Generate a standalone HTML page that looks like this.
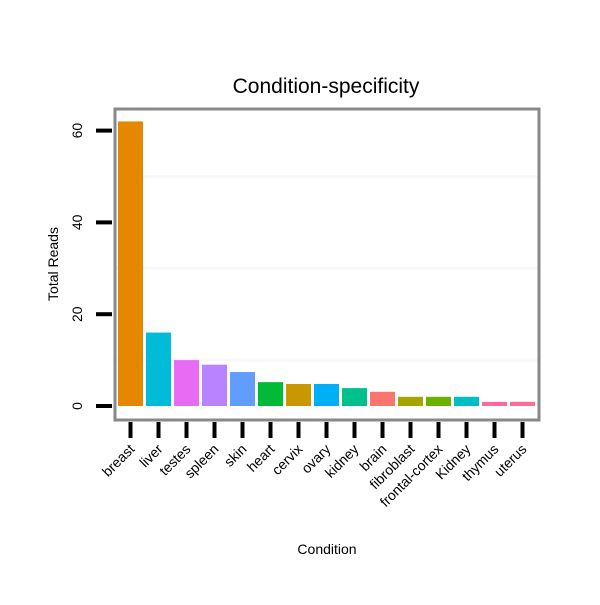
<!DOCTYPE html>
<html><head><meta charset="utf-8"><style>
body{margin:0;background:#fff;}
svg text{font-family:"Liberation Sans",sans-serif;}
</style></head><body>
<svg id="chart" width="600" height="600" viewBox="0 0 600 600">
<rect x="0" y="0" width="600" height="600" fill="#fff"/>
<text x="326" y="93" font-size="21" text-anchor="middle">Condition-specificity</text>
<g id="grid"></g>
<g id="bars"></g>
<rect x="115" y="109" width="424" height="311" fill="none" stroke="#888" stroke-width="3"/>
<g id="yaxis"></g>
<g id="xaxis"></g>
<text transform="translate(58,264) rotate(-90)" font-size="14" text-anchor="middle">Total Reads</text>
<text x="327" y="554" font-size="14" text-anchor="middle">Condition</text>
</svg>
<script>
const categories=["breast","liver","testes","spleen","skin","heart","cervix","ovary","kidney","brain","fibroblast","frontal-cortex","Kidney","thymus","uterus"];
const values=[62,16,10,9,7.4,5.2,4.8,4.8,3.9,3.1,2,2,2,0.9,0.9];
const colors=["#E58700","#00BCD8","#E76BF3","#B983FF","#619CFF","#00BA38","#C99800","#00B0F6","#00C08B","#F8766D","#A3A500","#6BB100","#00BFC4","#FF67A4","#FF6C91"];
const yTicks=[0,20,40,60];
const gridVals=[10,30,50];
const NS="http://www.w3.org/2000/svg";
const y=v=>406-v*4.59;
const x=i=>130.5+i*28;
const bw=25;
function mk(t,a,p){const e=document.createElementNS(NS,t);for(const k in a)e.setAttribute(k,a[k]);p.appendChild(e);return e;}
const grid=document.getElementById('grid'),bars=document.getElementById('bars'),ya=document.getElementById('yaxis'),xa=document.getElementById('xaxis');
gridVals.forEach(v=>{const l=mk('line',{x1:116,x2:538,y1:y(v),y2:y(v),stroke:'#f8f8f8','stroke-width':3},grid);

});
values.forEach((v,i)=>{const r=mk('rect',{x:x(i)-bw/2,y:y(v),width:bw,height:406-y(v),fill:colors[i]},bars);

});
yTicks.forEach(v=>{const l=mk('line',{x1:96,x2:112,y1:y(v),y2:y(v),stroke:'#000','stroke-width':4},ya);


const t=mk('text',{transform:`translate(82,${y(v)}) rotate(-90)`,'font-size':14,'text-anchor':'middle'},ya);t.textContent=v;

});
categories.forEach((c,i)=>{const l=mk('line',{x1:x(i),x2:x(i),y1:422,y2:438,stroke:'#000','stroke-width':4},xa);


const t=mk('text',{transform:`translate(${x(i)+5},${450}) rotate(-45)`,'font-size':14,'text-anchor':'end'},xa);t.textContent=c;

});
</script>
</body></html>
